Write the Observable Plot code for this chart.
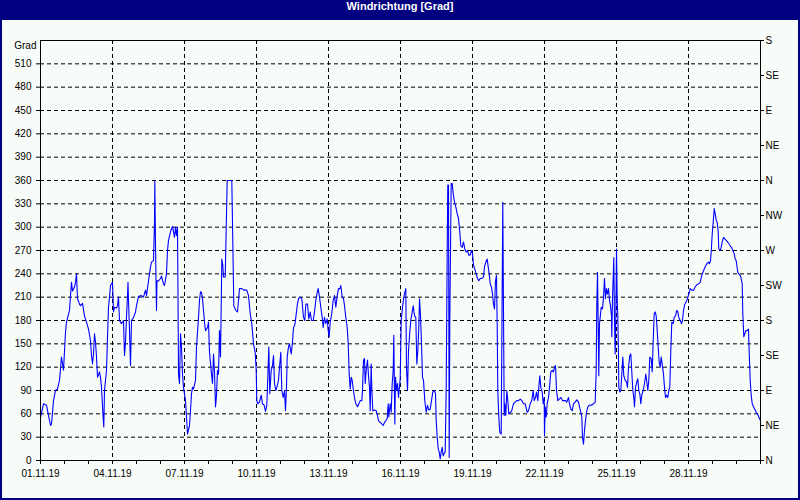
<!DOCTYPE html>
<html><head><meta charset="utf-8">
<script src="https://cdn.jsdelivr.net/npm/d3@7"></script>
<script src="https://cdn.jsdelivr.net/npm/@observablehq/plot@0.6"></script>
<style>
html,body{margin:0;padding:0;background:#000080;}
#frame{position:relative;width:800px;height:500px;background:#000080;overflow:hidden;}
#title{position:absolute;left:0;top:0;width:800px;height:20px;line-height:20px;text-align:center;color:#fff;font:bold 11px "Liberation Sans",Arial,sans-serif;}
#chart{position:absolute;left:2px;top:20px;width:796px;height:478px;background:#f8fcf8;}
#chart svg{display:block;}
</style></head>
<body><div id="frame"><div id="title">Windrichtung [Grad]</div><div id="chart"></div></div>
<script>
// hours since 01.11.19 00:00 and wind direction in degrees
const hours1 = [0,3,6,8,10,11,13,15,17,19,21,23,25,26,29,30,31,32,34,35,36,37,39,40,42,44,46,48,50,51,52,53,54,55,56,57,59,60,61,62.5,63.3,64,66,67,68,69,70,72,73,74,76,77,78,79,81,82,83,84,85,86,87,87.5,88,89,90,91,93,95,96,98,101,103,105,106,108,110,111,113,114,114.3,115,116,116.5,118,120,121,123,124,126,127,128,130,131,132,134,135,136,137,137.5,138,139,140,141,142,143,145,146,147,149,150,151,152,153,155,156,158,159,160,161,162,163,164,165,167,168,169,171,172,173,174,175,176,177];
const degrees1 = [55,73,71,58,45,47,77,90,92,103,133,116,165,178,193,212,229,218,223,229,240,208,201,199,202,186,178,169,154,135,124,137,163,152,133,107,114,107,94,58,43,90,116,159,197,210,225,229,191,197,196,199,210,180,176,178,180,135,152,184,212,229,206,167,122,180,184,191,199,211,212,210,219,212,231,249,255,257,306,360,276,193,231,231,234,237,227,225,240,270,283,294,298,301,287,300,289,300,212,111,99,163,146,111,94,77,56,34,45,64,86,94,92,103,146,184,206,217,216,208,193,178,167,171,178,139,111,99,137,114,69,84,116];

const hours2 = [178,179,180,180.7,181.3,182.3,183,184.7,185.7,186.7,191.3,192.3,193.3,195.3,197,198,199,201.3,203.7,206.3,208,209.7,211.3,213,214.7,215.7,216.3,217.3,219,220.7,222,223.7,225,226.3,227.3,228.3,229.3,230.7,232,233,234,235.3,236.3,238,239.3,240.3,241.3,242.7,244,245,246,246.7,248,249,250.7,252,253,254.3,255.3,256.7,258,259.7,261.3,263,264.3,265.3,267,268.3,269.7,271,272.7,274,275.3,276.7,277.7,279,280.3,281.7,282.7,284,285.3,286.7,287.7,288.7,289.7,291.3,292.7,294,295.3,296.7,298,299.3,300.3,301.7,303,304,305.3,306.7,307.7,308.7,309.7,310.7,311.7,312.7,314,315.3,317,318.3,319.7,321.3,322,323,324,324.7,325.7,327,328,329,329.7,330.7,331.3,332.3,334,335.7,336.7,338,339.7,341.3,342.7,344,345.3,346.7,347.7,348.3,349.7,350.7,351.7,352.7,353.3,354.3,355,356,357,358];
const degrees2 = [111,167,133,197,259,251,236,236,298,360,360,281,199,193,191,206,221,221,219,219,212,189,176,150,139,116,77,73,75,84,73,71,63,71,107,146,86,116,122,135,99,90,94,103,124,139,90,81,90,64,94,133,146,150,137,152,171,174,184,199,208,210,208,184,180,201,201,182,191,180,180,191,206,216,221,210,197,184,171,184,176,182,167,159,178,189,206,212,197,212,221,221,225,210,208,199,184,171,150,111,92,107,103,92,81,73,69,73,77,77,90,129,131,99,116,129,109,94,64,124,92,64,65,64,60,51,49,47,45,49,51,54,73,56,73,62,99,116,161,47,107,90,99,81];

const hours3 = [359.7,360.7,362,363.3,364.3,365.3,366,367,368,369.3,370.3,371.7,372.7,374,375.3,376.3,377.3,378.3,379,380,381,382,383,384.3,385.7,387,388.3,389.7,391,392.3,393.7,395,395.7,396.7,397.7,398.7,399.7,400.7,401.7,402.7,403.7,404.7,405.7,406.7,407.3,408,408.7,409.3,410,410.7,411.7,412.7,414,415.3,416.7,418,419.3,420.3,421.7,423,424.3,425.7,427,428.3,429.7,431,432,433,434.3,435.7,437,438.3,439.7,441.3,443,444,445.3,446.7,447.7,448.7,449.7,451,452,453,454,455,456,456.7,457.3,458.3,459.3,460.7,461.7,462.3,463,463.7,464.3,465.3,466.3,467.3,468.3,470,471.3,473,474.7,476.3,478,479.7,481.3,483,484.7,486.7,488,489.7,491.3,492.7,493.7,495,496,497.3,498.3,499.3,500.3,501.7,502.7,503.7,504,504.7,505.7,506.7,508,509,510.3,511.7,513,514,515,516,517.3,518.7,520.3,522,523.7,525,526.3,528,529,530.3,531.7,533,534.7,536.3];
const degrees3 = [105,180,197,210,216,221,120,90,141,165,180,191,199,186,184,124,141,171,208,186,150,107,103,77,62,71,65,66,77,88,90,86,51,30,15,11,2,11,17,6,9,11,94,266,354,354,4,180,270,356,356,343,332,326,317,311,294,276,274,281,272,268,270,264,264,270,266,251,246,240,234,231,234,234,236,249,255,259,249,240,227,223,214,201,195,231,238,174,90,56,36,34,223,332,193,58,73,58,90,77,60,62,64,73,75,77,77,79,77,73,73,62,64,73,77,90,77,81,88,77,94,109,94,88,73,81,32,69,56,73,81,94,114,116,114,120,122,90,77,79,81,77,77,77,75,81,73,66,64,73,75,78];

const hours4 = [538,539,540.3,541.3,542,543,544,545,546,547.3,549,550.7,553,554.7,555.7,556.3,557,557.7,558.3,559,559.7,560.7,562,563,564,565,566,567,568,569,570,571,571.3,572,572.7,573.3,574,574.7,575.3,576,576.7,577.3,578,578.3,579.3,580.3,581.3,582.3,583.3,584.7,586,587,588,589.3,590.3,591.3,592.3,593.3,594,595,596.3,597.3,598.3,599.3,600.3,601.3,602.7,604,605.3,606.3,607.3,608.3,609.3,610.7,611.7,612.7,613.7,614.7,615.7,616.7,617.7,618.7,619.7,620.7,621.7,623,624,625,626,627.3,628.3,629.3,630.3,631.3,632.7,633.7,635,636.3,637.3,638.3,639.7,641,642,643,644.3,645.7,647,648.3,649.7,651.3,653,654.7,656.3,658,659.7,661.3,663,664.7,666.3,668,669,670,670.7,671.7,672.7,673.7,674.7,675.7,676.7,677.7,678.3,679.7,680.7,681.7,683,684.3,685.7,687,688.3,689.7,691,692.3,693.7,694.7,695.7,696.3,697.3,698.3,699.7,700.7,701.7,702.3,703.3,704.3,705.3,706.7,708,708.7,709.7,710.7,711.7,713,714.3,715.7,717,718.3,719.7];
const degrees4 = [75,69,62,56,30,21,39,51,62,69,71,71,73,75,116,199,242,176,109,176,184,197,195,210,234,208,221,214,221,206,199,186,159,208,236,261,180,137,184,272,206,186,133,94,88,90,111,133,109,103,101,94,120,135,137,114,90,81,69,94,101,105,90,86,73,84,90,99,111,101,90,103,133,131,114,154,189,191,186,167,146,126,120,133,124,111,94,81,84,81,90,94,141,178,176,184,186,193,191,184,180,176,180,193,201,204,208,214,221,219,219,223,226,227,229,238,244,249,253,255,253,257,268,291,306,324,317,309,306,294,272,270,274,281,287,285,283,281,279,276,274,270,266,259,257,251,242,240,238,234,227,189,159,163,167,167,169,139,103,84,73,69,66,62,60,56,52];

const leftTicks = [0,30,60,90,120,150,180,210,240,270,300,330,360,390,420,450,480,510];
const gridValues = [30,60,90,120,150,180,210,240,270,300,330,360,390,420,450,480,510];
const compassTicks = [0,45,90,135,180,225,270,315,360,405,450,495,540];
const compassLabels = ["N","NE","E","SE","S","SW","W","NW","N","NE","E","SE","S"];

const start = Date.UTC(2019, 10, 1);
const end = Date.UTC(2019, 11, 1);
const toDate = h => new Date(start + h * 3600e3);
const segments = [[hours1, degrees1], [hours2, degrees2], [hours3, degrees3], [hours4, degrees4]];
const data = segments.flatMap(([hs, vs]) => hs.slice(0, Math.min(hs.length, vs.length)).map((h, i) => ({date: toDate(h), deg: vs[i]})));

const days = d3.utcDay.range(new Date(start), new Date(end + 1000));
const labelDays = days.filter((d, i) => i % 3 === 0 && i < 30);
const gridDays = labelDays.slice(1);
const fmt = d3.utcFormat("%d.%m.%y");

const chart = Plot.plot({
  width: 796, height: 478,
  marginLeft: 38, marginRight: 38, marginTop: 20, marginBottom: 38,
  style: {background: "transparent", fontFamily: "'Liberation Sans', Arial, sans-serif", fontSize: "10px", color: "black"},
  x: {type: "utc", domain: [new Date(start), new Date(end)]},
  y: {domain: [0, 540]},
  marks: [
    Plot.gridY(gridValues, {stroke: "black", strokeOpacity: 1, strokeDasharray: "4,3"}),
    Plot.gridX(gridDays, {stroke: "black", strokeOpacity: 1, strokeDasharray: "4,3"}),
    Plot.line(data, {x: "date", y: "deg", stroke: "#0000ff", strokeWidth: 1.1}),
    Plot.frame({stroke: "black"}),
    Plot.axisY(leftTicks, {anchor: "left", tickSize: 4, tickPadding: 5, label: null}),
    Plot.axisY(compassTicks, {anchor: "right", tickSize: 3, tickPadding: 2, tickFormat: d => compassLabels[d / 45], label: null}),
    Plot.axisX(days, {anchor: "bottom", tickSize: 4, tickFormat: () => "", label: null}),
    Plot.axisX(labelDays, {anchor: "bottom", tickSize: 4, tickPadding: 5, tickFormat: fmt, label: null}),
    Plot.text(["Grad"], {text: d => d, frameAnchor: "top-left", dx: -4, dy: 1, textAnchor: "end"})
  ]
});
document.getElementById("chart").appendChild(chart);
</script>
</body></html>
